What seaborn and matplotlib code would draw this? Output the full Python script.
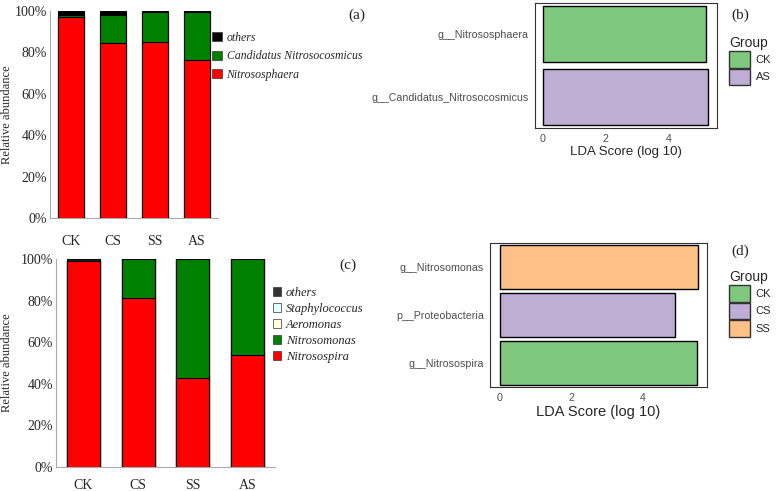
import numpy as np
import pandas as pd
import matplotlib
from matplotlib import pyplot as plt
from matplotlib.patches import Patch
import seaborn as sns

sns.set_style('white')
serif = ['Liberation Serif', 'DejaVu Serif']
sans = ['Liberation Sans', 'DejaVu Sans']
plt.rcParams['font.family'] = serif

# ---- data ----
samples = ['CK', 'CS', 'SS', 'AS']

# (a) archaea genera, % relative abundance
arch_taxa = ['Nitrososphaera', 'Candidatus Nitrosocosmicus', 'others']
arch_nitrososphaera = [97.1, 84.6, 85.1, 76.3]
arch_candidatus = [0.7, 13.3, 14.3, 23.1]
arch_others = [2.2, 2.1, 0.6, 0.6]
arch_colors = ['#ff0000', '#008000', '#000000']

# (c) bacteria genera, % relative abundance
bact_taxa = ['Nitrosospira', 'Nitrosomonas', 'Aeromonas', 'Staphylococcus', 'others']
bact_nitrosospira = [99.2, 81.5, 42.6, 53.9]
bact_nitrosomonas = [0.0, 18.5, 57.4, 46.1]
bact_aeromonas = [0.0, 0.0, 0.0, 0.0]
bact_staphylococcus = [0.0, 0.0, 0.0, 0.0]
bact_others = [0.8, 0.0, 0.0, 0.0]
bact_colors = ['#ff0000', '#008000', '#ffffe0', '#e0ffff', '#333333']

# (b) LEfSe archaea
lda_b_features = ['g__Nitrososphaera', 'g__Candidatus_Nitrosocosmicus']
lda_b_scores = [5.17, 5.24]
lda_b_groups = ['CK', 'AS']
lda_b_palette = {'CK': '#7fc97f', 'AS': '#beaed4'}

# (d) LEfSe bacteria
lda_d_features = ['g__Nitrosomonas', 'p__Proteobacteria', 'g__Nitrosospira']
lda_d_scores = [5.55, 4.90, 5.52]
lda_d_groups = ['SS', 'CS', 'CK']
lda_d_order = ['CK', 'CS', 'SS']
lda_d_palette = {'CK': '#7fc97f', 'CS': '#beaed4', 'SS': '#fdc086'}

fig = plt.figure(figsize=(7.78, 4.91), dpi=100)


def stacked(ax, layers, colors, taxa, label, lx, ly, label_pos, leg_size, hsize, lspace,
            xpad, ylab_x):
    cum = np.cumsum(np.array(layers), axis=0)
    # draw tallest first so lower layers sit on top
    for i in range(len(layers) - 1, -1, -1):
        sns.barplot(x=samples, y=cum[i] / 100, color=colors[i], edgecolor='black',
                    linewidth=0.8, width=0.6, saturation=1, ax=ax)
    ax.set_ylim(0, 1)
    ax.set_xlim(-0.5, 3.5)
    ax.set_yticks(np.linspace(0, 1, 6))
    ax.set_yticklabels(['0%', '20%', '40%', '60%', '80%', '100%'], fontsize=10)
    ax.set_xticks(range(4))
    ax.set_xticklabels(samples, fontsize=10)
    ax.tick_params(axis='x', length=0, pad=xpad)
    ax.tick_params(axis='y', length=0, pad=2)
    ax.set_ylabel('Relative abundance', fontsize=9)
    ax.yaxis.set_label_coords(ylab_x, 0.5)
    for s in ['top', 'right']:
        ax.spines[s].set_visible(False)
    for s in ['left', 'bottom']:
        ax.spines[s].set_color('#aaaaaa')
        ax.spines[s].set_linewidth(0.8)
    handles = [Patch(facecolor=colors[i], edgecolor='#333333', linewidth=0.5,
                     label=taxa[i]) for i in range(len(taxa) - 1, -1, -1)]
    fig.legend(handles=handles, loc='upper left', bbox_to_anchor=(lx, ly),
               frameon=False, prop={'family': serif, 'style': 'italic', 'size': leg_size},
               handlelength=hsize, handleheight=hsize, handletextpad=0.4,
               labelspacing=lspace, borderaxespad=0, borderpad=0)
    fig.text(label_pos[0], label_pos[1], label, fontsize=11, ha='center', va='center')


ax_a = fig.add_axes([0.0643, 0.5554, 0.216, 0.4228])
stacked(ax_a, [arch_nitrososphaera, arch_candidatus, arch_others], arch_colors, arch_taxa,
        '(a)', 0.273, 1 - 32 / 491, (357 / 778, 1 - 15 / 491), 8.5, 0.8, 0.55, 12, -0.22)

ax_c = fig.add_axes([0.072, 0.0495, 0.2815, 0.4224])
stacked(ax_c, [bact_nitrosospira, bact_nitrosomonas, bact_aeromonas, bact_staphylococcus, bact_others],
        bact_colors, bact_taxa, '(c)', 0.3505, 1 - 287 / 491, (348 / 778, 1 - 265 / 491),
        9, 0.65, 0.32, 9, -0.196)


def lda(ax, features, scores, groups, palette, order, xlim, label, lab_y, grp_y, xlab_size):
    df = pd.DataFrame({'feature': features, 'score': scores, 'group': groups})
    sns.barplot(data=df, x='score', y='feature', hue='group', hue_order=order,
                palette=palette, orient='h', dodge=False, width=0.9, saturation=1,
                edgecolor='black', linewidth=1.0, legend=False, ax=ax)
    ax.set_xlim(*xlim)
    ax.set_xticks([0, 2, 4])
    ax.set_xlabel('LDA Score (log 10)', fontsize=xlab_size, family=sans, labelpad=1)
    ax.set_ylabel('')
    ax.tick_params(axis='both', length=2.5, width=0.8, color='#333333', pad=2)
    for t in ax.get_xticklabels() + ax.get_yticklabels():
        t.set_family(sans)
        t.set_fontsize(7.7)
        t.set_color('#4d4d4d')
    for s in ax.spines.values():
        s.set_color('#333333')
        s.set_linewidth(0.8)
    fig.text(740 / 778, 1 - lab_y / 491, label, fontsize=11, ha='center', va='center')
    handles = [Patch(facecolor=palette[g], edgecolor='#333333', linewidth=1.0, label=g)
               for g in order]
    leg = fig.legend(handles=handles, loc='upper left', bbox_to_anchor=(729 / 778, 1 - grp_y / 491),
                     frameon=False, title='Group', prop={'family': sans, 'size': 8},
                     title_fontproperties={'family': sans, 'size': 10},
                     handlelength=1.9, handleheight=1.9, handletextpad=0.5,
                     labelspacing=0.1, borderaxespad=0, borderpad=0)
    leg._legend_box.align = 'left'


ax_b = fig.add_axes([0.6877, 0.7393, 0.234, 0.2546])
lda(ax_b, lda_b_features, lda_b_scores, lda_b_groups, lda_b_palette, ['CK', 'AS'],
    (-0.24, 5.53), '(b)', 15, 36, 9.5)

ax_d = fig.add_axes([0.6298, 0.2118, 0.2789, 0.2933])
lda(ax_d, lda_d_features, lda_d_scores, lda_d_groups, lda_d_palette, lda_d_order,
    (-0.28, 5.81), '(d)', 251, 270, 10.5)

plt.savefig('out.png', dpi=100)
